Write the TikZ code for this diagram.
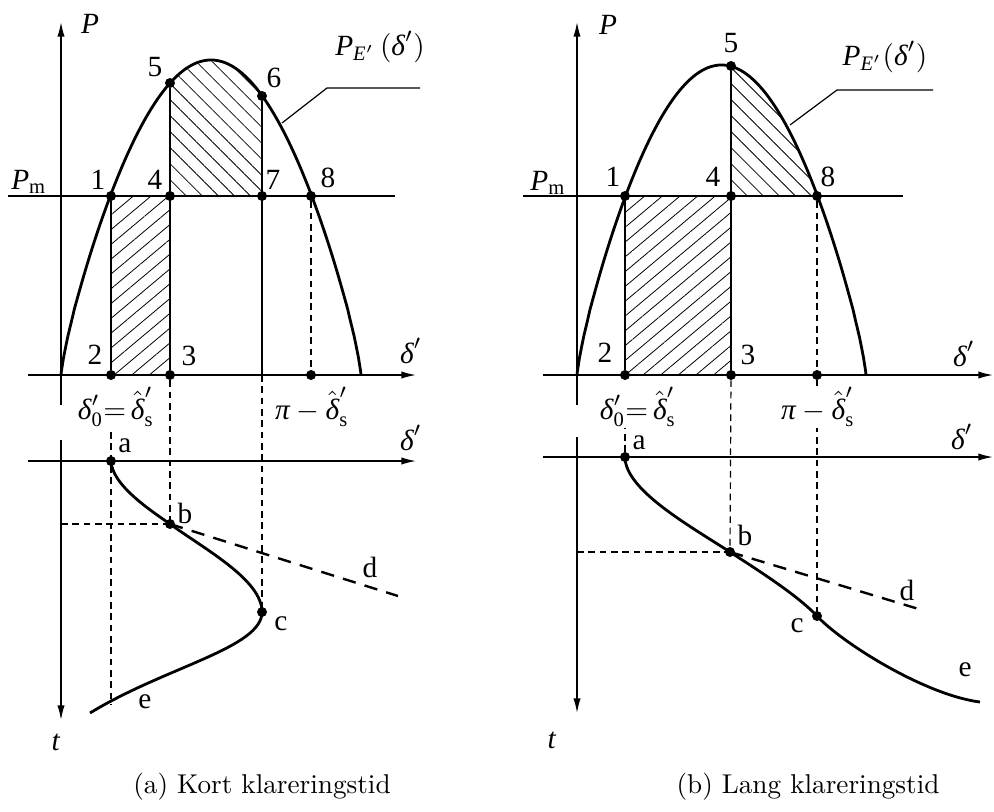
\documentclass[tikz,border=0pt]{standalone}
\usepackage{amsmath}
\usepackage{graphicx}
\usepackage{fontspec}
\newfontfamily\tms{Liberation Serif}
\usetikzlibrary{arrows.meta,patterns.meta}
\newcommand\dlt{\text{\itshape δ}}
\newcommand\hdl{\hat{\text{\itshape δ}}}
\newcommand\lb[1]{\scalebox{2.2}{#1}}
\newcommand\cp[1]{\scalebox{2.04}{#1}}
\begin{document}
\begin{tikzpicture}[x=0.75pt,y=-0.75pt,
 lbl/.style={font=\tms, inner sep=1pt},
 captxt/.style={inner sep=1pt},
 wlbl/.style={lbl, fill=white, inner sep=0.5pt},
 axl/.style={line width=1.1pt},
 thinl/.style={line width=0.9pt},
 crv/.style={line width=2.1pt},
 dshl/.style={line width=0.9pt, dash pattern=on 5pt off 3.5pt},
 tngl/.style={line width=1.8pt, dash pattern=on 10pt off 7pt},
 arr/.style={-{Latex[length=11pt,width=5.5pt]}},
 ptdot/.style={circle, fill, inner sep=0pt, minimum size=7.5pt},
 hatchA/.style={pattern={Lines[angle=40,distance=8.5pt,line width=0.6pt]}},
 hatchB/.style={pattern={Lines[angle=-45,distance=8.5pt,line width=0.6pt]}},
]
\useasboundingbox (0,0) rectangle (994,811);

% ================= LEFT PANEL =================
\fill[hatchA] (111,196) rectangle (170,375);
\fill[hatchB] (170,196) -- plot[domain=65.4:120.6,samples=40] ({61+\x*1.666667},{375-315*pow(sin(\x),0.8)}) -- (262,196) -- cycle;

\coordinate (LPb) at (61,405);
\coordinate (LPt) at (61,22);
\coordinate (LXl) at (28,375);
\coordinate (LXr) at (416,375);
\coordinate (LMl) at (8,196);
\coordinate (LMr) at (395,196);
\draw[axl,arr] (LPb) -- (LPt);
\draw[axl,arr] (LXl) -- (LXr);
\draw[thinl] (LMl) -- (LMr);

\coordinate (Lc0) at (61,375);
\coordinate (Lc1) at (361,375);
\draw[crv] (Lc0) -- plot[domain=0.2:179.8,samples=140] ({61+\x*1.666667},{375-315*pow(sin(\x),0.8)}) -- (Lc1);

\coordinate (L7b) at (262,375);
\node[ptdot] (L1) at (111,196) {};
\node[ptdot] (L4) at (170,196) {};
\node[ptdot] (L7) at (262,196) {};
\node[ptdot] (L8) at (311,196) {};
\node[ptdot] (L5) at (170,83) {};
\node[ptdot] (L6) at (262,96) {};
\node[ptdot] (L2) at (111,375) {};
\node[ptdot] (L3) at (170,375) {};
\node[ptdot] (L8b) at (311,375) {};

\draw[thinl] (L1) -- (L2);
\draw[thinl] (L5) -- (L3);
\draw[thinl] (L6) -- (L7b);
\draw[dshl] (L8) -- (L8b);

% leader
\coordinate (LLa) at (282,123);
\coordinate (LLb) at (327,88);
\coordinate (LLc) at (420,88);
\draw[thinl] (LLa) -- (LLb) -- (LLc);

% lower left
\coordinate (LTl) at (28,461);
\coordinate (LTr) at (416,461);
\coordinate (LTt) at (61,440);
\coordinate (LTb) at (61,720);
\draw[axl,arr] (LTl) -- (LTr);
\draw[axl,arr] (LTt) -- (LTb);

\coordinate (La) at (111,461);
\coordinate (Lb) at (170,524);
\coordinate (Lc) at (262,612);
\coordinate (Le) at (90,713);
\coordinate (Ld) at (398,596);
\coordinate (Lh) at (61,524);
\coordinate (Lv1) at (111,432);
\coordinate (Lv2) at (111,705);

\draw[dshl] (Lv1) -- (Lv2);
\draw[dshl] (L3) -- (Lb);
\draw[dshl] (L7b) -- (Lc);
\draw[dshl] (Lh) -- (Lb);
\draw[tngl] (Lb) -- (Ld);
\draw[crv] (La) .. controls (112,485) and (150,510) .. (Lb)
  .. controls (206,550) and (262,580) .. (Lc)
  .. controls (262,648) and (165,667) .. (Le);
\node[ptdot] (LaD) at (La) {};
\node[ptdot] (LbD) at (Lb) {};
\node[ptdot] (LcD) at (Lc) {};

% labels left
\node[lbl] (tLP) at (90,24) {\lb{\textit{P}}};
\node[lbl] (tLPm) at (29,182) {\lb{\textit{P}$_{\text{m}}$}};
\node[lbl] (tL1) at (98,180) {\lb{1}};
\node[lbl] (tL4) at (155,180) {\lb{4}};
\node[lbl] (tL7) at (273,180) {\lb{7}};
\node[lbl] (tL8) at (328,178) {\lb{8}};
\node[lbl] (tL5) at (155,67) {\lb{5}};
\node[lbl] (tL6) at (274,78) {\lb{6}};
\node[lbl] (tL2) at (95,355) {\lb{2}};
\node[lbl] (tL3) at (189,356) {\lb{3}};
\node[lbl] (tLx) at (411,351) {\lb{$\dlt'$}};
\node[lbl] (tLPE) at (380,47) {\lb{$\text{\itshape P}_{\text{\itshape E}'}\,(\dlt')$}};
\node[lbl] (tLs0) at (116,407) {\lb{$\dlt'_{\text{0}}{=}\,\hdl'_{\text{s}}$}};
\node[lbl] (tLps) at (312,407) {\lb{$\text{\itshape π}-\hdl'_{\text{s}}$}};
\node[lbl] (tLx2) at (411,438) {\lb{$\dlt'$}};
\node[lbl] (tLa) at (125,446) {\lb{a}};
\node[lbl] (tLb) at (185,513) {\lb{b}};
\node[lbl] (tLc) at (281,624) {\lb{c}};
\node[lbl] (tLd) at (370,567) {\lb{d}};
\node[lbl] (tLe) at (145,702) {\lb{e}};
\node[lbl] (tLt) at (56,742) {\lb{\textit{t}}};

% ================= RIGHT PANEL =================
\fill[hatchA] (625,196) rectangle (731,375);
\fill[hatchB] (731,196) -- plot[domain=95.9:149.6,samples=40] ({577+\x*1.605556},{375-310*pow(sin(\x),0.8)}) -- (817,196) -- cycle;

\coordinate (RPb) at (577,405);
\coordinate (RPt) at (577,22);
\coordinate (RXl) at (543,375);
\coordinate (RXr) at (993,375);
\coordinate (RMl) at (523,196);
\coordinate (RMr) at (903,196);
\draw[axl,arr] (RPb) -- (RPt);
\draw[axl,arr] (RXl) -- (RXr);
\draw[thinl] (RMl) -- (RMr);

\coordinate (Rc0) at (577,375);
\coordinate (Rc1) at (866,375);
\draw[crv] (Rc0) -- plot[domain=0.2:179.8,samples=140] ({577+\x*1.605556},{375-310*pow(sin(\x),0.8)}) -- (Rc1);

\node[ptdot] (R1) at (625,196) {};
\node[ptdot] (R4) at (731,196) {};
\node[ptdot] (R8) at (817,196) {};
\node[ptdot] (R5) at (731,66) {};
\node[ptdot] (R2) at (625,375) {};
\node[ptdot] (R3) at (731,375) {};
\node[ptdot] (R8b) at (817,375) {};

\draw[thinl] (R1) -- (R2);
\draw[thinl] (R5) -- (R3);
\draw[dshl] (R8) -- (R8b);

\coordinate (RLa) at (790,125);
\coordinate (RLb) at (837,90);
\coordinate (RLc) at (933,90);
\draw[thinl] (RLa) -- (RLb) -- (RLc);

% lower right
\coordinate (RTl) at (543,457);
\coordinate (RTr) at (993,457);
\coordinate (RTt) at (577,437);
\coordinate (RTb) at (577,713);
\draw[axl,arr] (RTl) -- (RTr);
\draw[axl,arr] (RTt) -- (RTb);

\coordinate (Ra) at (625,457);
\coordinate (Rb) at (730,552);
\coordinate (Rc) at (817,616);
\coordinate (Re) at (980,702);
\coordinate (Rd) at (922,610);
\coordinate (Rh) at (577,552);
\coordinate (Rv1) at (625,400);

\draw[dshl] (Rv1) -- (Ra);
\draw[dshl] (R3) -- (Rb);
\draw[dshl] (R8b) -- (Rc);
\draw[dshl] (Rh) -- (Rb);
\draw[tngl] (Rb) -- (Rd);
\draw[crv] (Ra) .. controls (625,490) and (690,526) .. (Rb)
  .. controls (760,571.5) and (797,595) .. (Rc)
  .. controls (842,643) and (925,695) .. (Re);
\node[ptdot] (RaD) at (Ra) {};
\node[ptdot] (RbD) at (Rb) {};
\node[ptdot] (RcD) at (Rc) {};

% labels right
\node[lbl] (tRP) at (608,25) {\lb{\textit{P}}};
\node[lbl] (tRPm) at (548,183) {\lb{\textit{P}$_{\text{m}}$}};
\node[lbl] (tR1) at (613,177) {\lb{1}};
\node[lbl] (tR4) at (713,177) {\lb{4}};
\node[lbl] (tR8) at (828,177) {\lb{8}};
\node[lbl] (tR5) at (731,43) {\lb{5}};
\node[lbl] (tR2) at (605,353) {\lb{2}};
\node[lbl] (tR3) at (748,355) {\lb{3}};
\node[lbl] (tRx) at (964,354) {\lb{$\dlt'$}};
\node[lbl] (tRPE) at (885,57) {\lb{$\text{\itshape P}_{\text{\itshape E}'}(\dlt')$}};
\node[wlbl] (tRs0) at (638,407) {\lb{$\dlt'_{\text{0}}{=}\,\hdl'_{\text{s}}$}};
\node[wlbl] (tRps) at (818,407) {\lb{$\text{\itshape π}-\hdl'_{\text{s}}$}};
\node[lbl] (tRx2) at (962,437) {\lb{$\dlt'$}};
\node[lbl] (tRa) at (639,443) {\lb{a}};
\node[lbl] (tRb) at (745,535) {\lb{b}};
\node[lbl] (tRc) at (797,626) {\lb{c}};
\node[lbl] (tRd) at (907,590) {\lb{d}};
\node[lbl] (tRe) at (965,670) {\lb{e}};
\node[lbl] (tRt) at (552,740) {\lb{\textit{t}}};

% captions
\node[captxt] (capA) at (262,787) {\cp{(a) Kort klareringstid}};
\node[captxt] (capB) at (808,787) {\cp{(b) Lang klareringstid}};
\end{tikzpicture}
\end{document}
